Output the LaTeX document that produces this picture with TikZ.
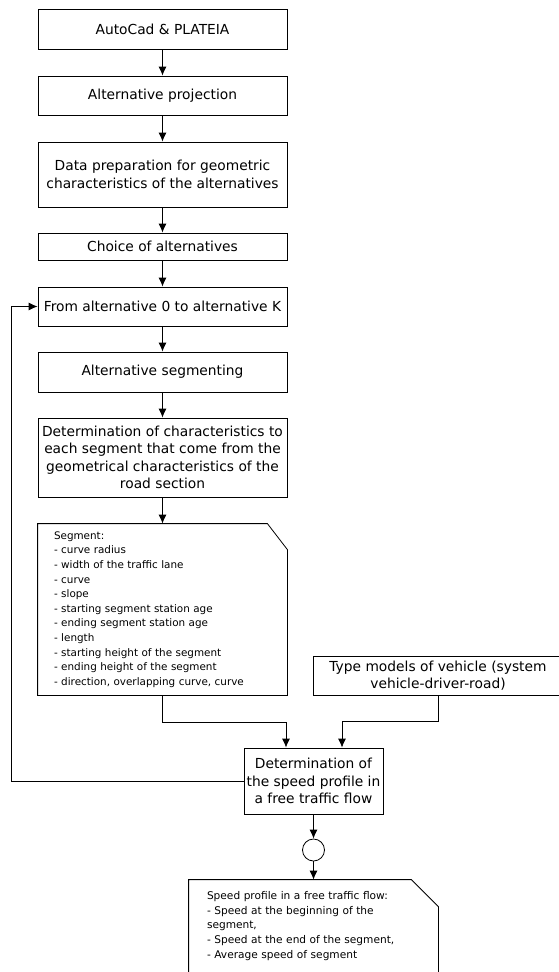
\documentclass[tikz,border=0pt]{standalone}
\usepackage{fontspec}
\setmainfont{DejaVu Sans}
\usetikzlibrary{arrows.meta}
\usetikzlibrary{calc}
\usetikzlibrary{positioning}

\begin{document}
\begin{tikzpicture}[x=1pt, y=-1pt, >={Latex[length=9pt,width=8pt]}, line width=0.8pt,
	main_box/.style={rectangle,draw,minimum width=249pt,inner sep=2pt,align=center,font=\fontsize{13.8}{17.5}\selectfont},
	card_text/.style={rectangle,minimum width=249pt,inner xsep=16pt,align=left,font=\fontsize{10.4}{14.6}\selectfont},
	joint/.style={circle,draw,minimum size=22pt,inner sep=0pt}]
	\useasboundingbox (0,0) rectangle (559,972);
	\clip (0,0) rectangle (559,972);
	
	\node[main_box, minimum height=40pt] (autocad) at (162.5,29) {AutoCad \& PLATEIA};
	\node[main_box, minimum height=39pt] (proj) at (162.5,95.5) {Alternative projection};
	\node[main_box, minimum height=65pt] (prep) at (162.5,174.5) {Data preparation for geometric\\characteristics of the alternatives};
	\node[main_box, minimum height=27pt] (choice) at (162.5,246.5) {Choice of alternatives};
	\node[main_box, minimum height=39pt] (range) at (162.5,306.5) {From alternative 0 to alternative K};
	\node[main_box, minimum height=40pt] (segm) at (162.5,372) {Alternative segmenting};
	\node[main_box, minimum height=79pt] (charact) at (162.5,457.5) {Determination of characteristics to\\each segment that come from the\\geometrical characteristics of the\\road section};
	\node[card_text, text width=217pt, minimum height=171pt] (segment) at (162.5,609.5) {Segment:\\- curve radius\\- width of the traffic lane\\- curve\\- slope\\- starting segment station age\\- ending segment station age\\- length\\- starting height of the segment\\- ending height of the segment\\- direction, overlapping curve, curve};
	\node[main_box, minimum width=250pt, minimum height=39pt] (vehicle) at (438,675.5) {Type models of vehicle (system\\vehicle-driver-road)};
	\node[main_box, minimum width=139pt, minimum height=66pt] (speed) at (313.5,781) {Determination of\\the speed profile in\\a free traffic flow};
	\node[joint] (conn) at (313.5,850) {};
	\node[card_text, font=\fontsize{10.6}{14.6}\selectfont, inner xsep=18pt, text width=213pt, minimum height=92pt] (profile) at (313.5,926) {Speed profile in a free traffic flow:\\- Speed at the beginning of the\\segment,\\- Speed at the end of the segment,\\- Average speed of segment};
	
	% cut corner cards
	\draw (segment.south west) -- (segment.north west) -- ($(segment.north east)+(-20,0)$) -- ($(segment.north east)+(0,26)$) -- (segment.south east) -- cycle;
	\draw (profile.south west) -- (profile.north west) -- ($(profile.north east)+(-27,0)$) -- ($(profile.north east)+(0,27)$) -- (profile.south east);
	
	\draw[->] (autocad) -- (proj);
	\draw[->] (proj) -- (prep);
	\draw[->] (prep) -- (choice);
	\draw[->] (choice) -- (range);
	\draw[->] (range) -- (segm);
	\draw[->] (segm) -- (charact);
	\draw[->] (charact) -- (segment);
	\draw[->] (segment.south) -- ++(0,27) -| ($(speed.north)+(-27.5,0)$);
	\draw[->] (vehicle.south) -- ++(0,26) -| ($(speed.north)+(28.5,0)$);
	\coordinate (back) at (11,781);
	\draw[->] (speed.west) -- (back) |- (range.west);
	\draw[->] (speed) -- (conn);
	\draw[->] (conn) -- (profile);
\end{tikzpicture}
\end{document}
